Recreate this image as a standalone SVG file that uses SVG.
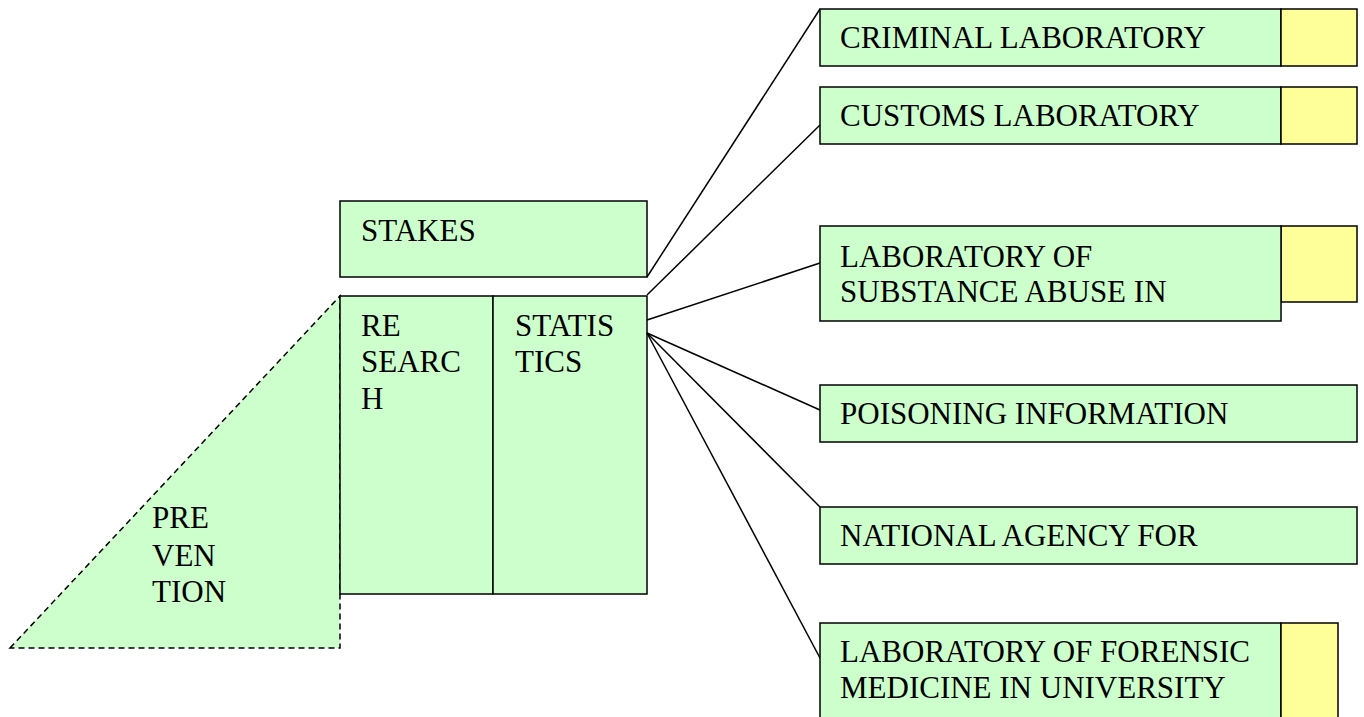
<svg xmlns="http://www.w3.org/2000/svg" width="1364" height="717" viewBox="0 0 1364 717">
<style>
.g{fill:#CCFFCC;stroke:#000;stroke-width:1.5}
.y{fill:#FFFF99;stroke:#000;stroke-width:1.5}
.t{font-size:31px;fill:#000}
.c{stroke:#000;stroke-width:1.5;fill:none}
</style>
<rect width="1364" height="717" fill="#fff"/>
<g font-family="Liberation Serif, DejaVu Serif, serif">
<g id="prevention">
<polygon points="10,648 340,296 340,648" fill="#CCFFCC" stroke="#000" stroke-width="1.5" stroke-dasharray="6,4"/>
<text class="t" x="152" y="528">PRE</text>
<text class="t" x="152" y="566">VEN</text>
<text class="t" x="152" y="602">TION</text>
</g>
<g id="stakes">
<rect class="g" x="340" y="201" width="307" height="76"/>
<text class="t" x="361" y="241">STAKES</text>
</g>
<g id="research">
<rect class="g" x="340" y="296" width="153" height="298"/>
<text class="t" x="361" y="336">RE</text>
<text class="t" x="361" y="372">SEARC</text>
<text class="t" x="361" y="409">H</text>
</g>
<g id="statistics">
<rect class="g" x="493" y="296" width="154" height="298"/>
<text class="t" x="515" y="336">STATIS</text>
<text class="t" x="515" y="372">TICS</text>
</g>
<g id="connectors">
<line class="c" x1="647" y1="277" x2="820" y2="9"/>
<line class="c" x1="647" y1="295" x2="820" y2="125"/>
<line class="c" x1="647" y1="320" x2="820" y2="263"/>
<line class="c" x1="647" y1="333" x2="820" y2="410"/>
<line class="c" x1="647" y1="333" x2="820" y2="507"/>
<line class="c" x1="647" y1="333" x2="820" y2="658"/>
</g>
<g id="criminal">
<rect class="g" x="820" y="9" width="461" height="57"/>
<rect class="y" x="1281" y="9" width="76" height="57"/>
<text class="t" x="840" y="48">CRIMINAL LABORATORY</text>
</g>
<g id="customs">
<rect class="g" x="820" y="87" width="461" height="57"/>
<rect class="y" x="1281" y="87" width="76" height="57"/>
<text class="t" x="840" y="126">CUSTOMS LABORATORY</text>
</g>
<g id="substance">
<rect class="y" x="1281" y="226" width="76" height="76"/>
<rect class="g" x="820" y="226" width="461" height="95"/>
<text class="t" x="840" y="267">LABORATORY OF</text>
<text class="t" x="840" y="302">SUBSTANCE ABUSE IN</text>
</g>
<g id="poisoning">
<rect class="g" x="820" y="385" width="537" height="57"/>
<text class="t" x="840" y="424">POISONING INFORMATION</text>
</g>
<g id="national">
<rect class="g" x="820" y="507" width="537" height="57"/>
<text class="t" x="840" y="546">NATIONAL AGENCY FOR</text>
</g>
<g id="forensic">
<rect class="g" x="820" y="623" width="461" height="130"/>
<rect class="y" x="1281" y="623" width="57" height="130"/>
<text class="t" x="840" y="662">LABORATORY OF FORENSIC</text>
<text class="t" x="840" y="698">MEDICINE IN UNIVERSITY</text>
</g>
</g>
</svg>
